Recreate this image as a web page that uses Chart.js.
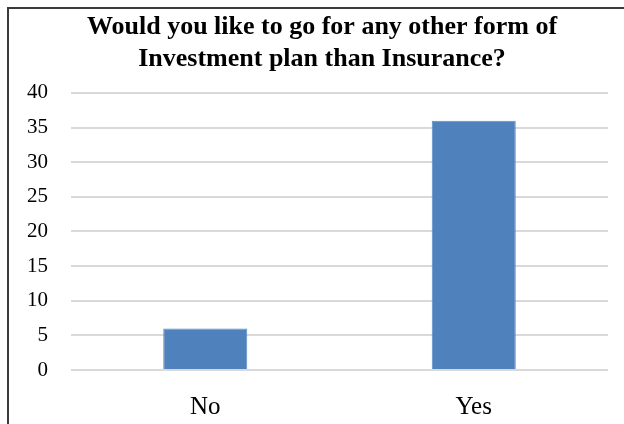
<!DOCTYPE html>
<html>
<head>
<meta charset="utf-8">
<script src="https://cdn.jsdelivr.net/npm/chart.js@4/dist/chart.umd.min.js"></script>
<style>
  html, body { margin: 0; padding: 0; background: #fff; }
  #wrap { width: 624px; height: 424px; position: relative; }
</style>
</head>
<body>
<div id="wrap"><canvas id="chart"></canvas></div>
<script>
// Survey answers and their counts
const answers = ['No', 'Yes'];
const counts = [6, 36];
const titleLines = [
    'Would you like to go for any other form of',
    'Investment plan than Insurance?'
];

const serif = '"Liberation Serif", "Times New Roman", serif';

// Dark frame around the whole chart (right and bottom edges fall off the canvas)
const framePlugin = {
    id: 'frame',
    beforeDraw(chart) {
        const ctx = chart.ctx;
        ctx.save();
        ctx.fillStyle = '#ffffff';
        ctx.fillRect(0, 0, chart.width, chart.height);
        ctx.strokeStyle = '#3a3a3a';
        ctx.lineWidth = 2;
        ctx.strokeRect(8, 8, chart.width + 20, chart.height + 20);
        ctx.restore();
    }
};

new Chart(document.getElementById('chart'), {
    type: 'bar',
    data: {
        labels: answers,
        datasets: [{
            data: counts,
            backgroundColor: '#4f81bd',
            borderColor: '#5a8cc8',
            borderWidth: 1,
            categoryPercentage: 1,
            barPercentage: 0.313
        }]
    },
    options: {
        responsive: true,
        maintainAspectRatio: false,
        animation: false,
        layout: {
            padding: { left: 20, right: 0, top: 0, bottom: 0 }
        },
        plugins: {
            legend: { display: false },
            tooltip: { enabled: false },
            title: {
                display: true,
                text: titleLines,
                color: '#000',
                font: { family: serif, size: 26, weight: 'bold', lineHeight: 1.23 },
                padding: { top: 11, bottom: 18 }
            }
        },
        scales: {
            x: {
                grid: { display: false, drawTicks: false },
                border: { display: false },
                ticks: {
                    color: '#000',
                    font: { family: serif, size: 25 },
                    padding: 22
                },
                afterFit(scale) { scale.height = 54; }
            },
            y: {
                min: 0,
                max: 40,
                grid: { color: '#d9d9d9', lineWidth: 2, drawTicks: false },
                border: { display: false },
                ticks: {
                    stepSize: 5,
                    color: '#000',
                    font: { family: serif, size: 21 },
                    padding: 23
                },
                afterFit(scale) { scale.width = 51; }
            },
            // empty right-hand gutter so the plot ends short of the edge
            gutter: {
                type: 'linear',
                position: 'right',
                grid: { display: false, drawTicks: false },
                border: { display: false },
                ticks: { display: false },
                afterFit(scale) { scale.width = 16; }
            }
        }
    },
    plugins: [framePlugin]
});
</script>
</body>
</html>
